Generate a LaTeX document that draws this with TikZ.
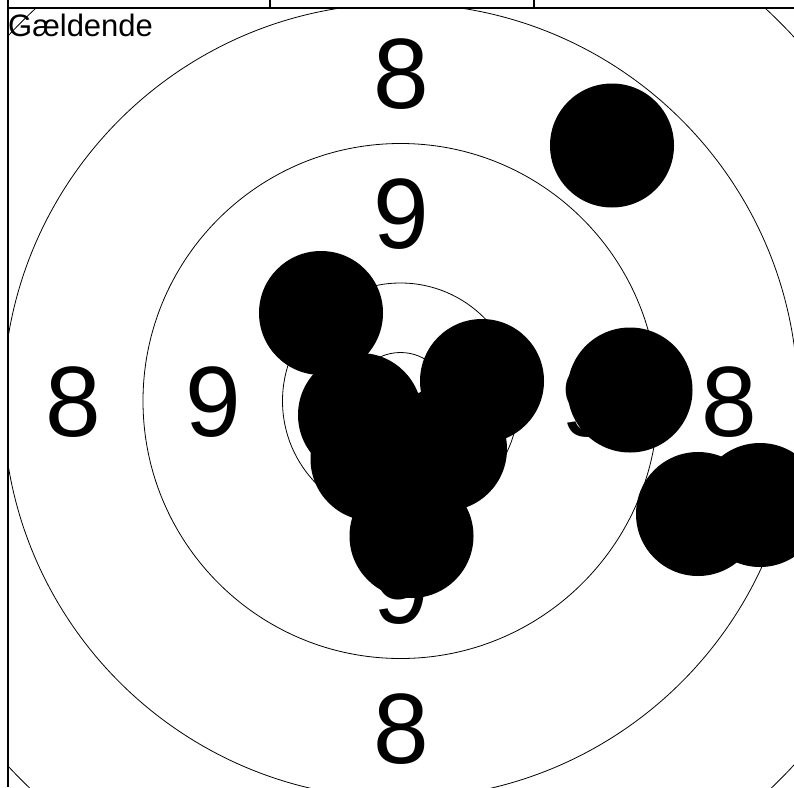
\documentclass[tikz,border=0pt]{standalone}
\usepackage{fontspec}
\setmainfont{Liberation Sans}
\usepackage{tikz}

\begin{document}
\begin{tikzpicture}[x=1pt, y=-1pt,
		ring/.style={black, line width=0.8pt},
		frameline/.style={black, line width=1.2pt},
		shot/.style={fill=black},
		ringnum/.style={inner sep=0pt, font=\fontsize{100}{100}\selectfont}]
				
				\useasboundingbox (0,0) rectangle (794,787);
				
				% header lines
				\draw[frameline] (8,0) -- (8,787);
				\draw[frameline] (8,8) -- (794,8);
				\draw[frameline] (270,0) -- (270,8);
				\draw[frameline] (534,0) -- (534,8);
				
				\begin{scope}
					\clip (8.6,8.6) rectangle (794,787);
					
					\node[anchor=base west, inner sep=0pt, font=\fontsize{31}{31}\selectfont] (title) at (8,36) {Gældende};
					
					% rings
					\draw[ring] (400.5,401) circle (536);
					\draw[ring] (400.5,401) circle (397.5);
					\draw[ring] (400.5,401) circle (257.5);
					\draw[ring] (400.5,401) circle (118);
					\draw[ring] (400.5,401) circle (48.5);
					
					% ring numbers
					\node[ringnum] (eighttop) at (401.5,74) {8};
					\node[ringnum] (ninetop) at (401.5,214) {9};
					\node[ringnum] (eightleft) at (73,402.5) {8};
					\node[ringnum] (nineleft) at (213,402.5) {9};
					\node[ringnum] (nineright) at (589,402.5) {9};
					\node[ringnum] (eightright) at (729,402.5) {8};
					\node[ringnum] (ninebottom) at (401.5,589) {9};
					\node[ringnum] (eightbottom) at (401.5,729) {8};
					
					% shots
					\fill[shot] (612,145.5) circle (62);
					\fill[shot] (321,313) circle (62);
					\fill[shot] (482,381) circle (62);
					\fill[shot] (630,390) circle (62.5);
					\fill[shot] (698,514) circle (62);
					\fill[shot] (760,505) circle (62);
					\fill[shot] (360,415) circle (62);
					\fill[shot] (372.5,459) circle (62);
					\fill[shot] (445,449) circle (62);
					\fill[shot] (411.5,536) circle (62);
				\end{scope}
				
			\end{tikzpicture}
\end{document}
